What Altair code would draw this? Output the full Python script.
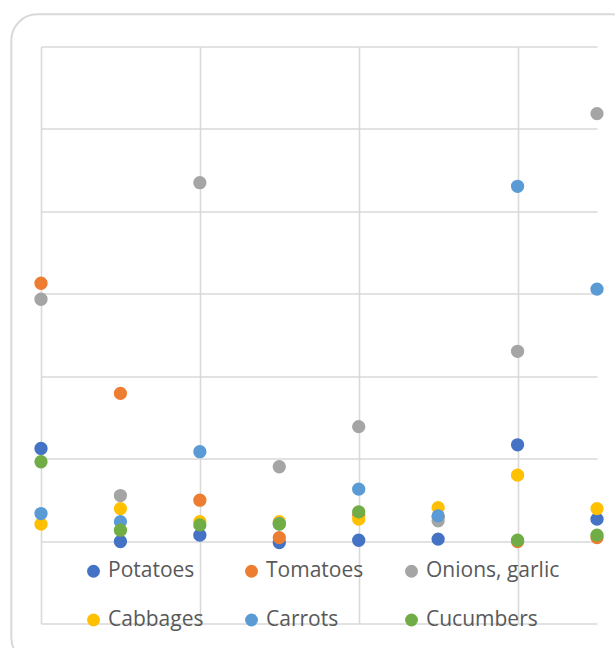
import altair as alt
import pandas as pd

categories = [0, 1, 2, 3, 4, 5, 6, 7]
series_names = ["Potatoes", "Tomatoes", "Onions, garlic", "Cabbages", "Carrots", "Cucumbers"]
potatoes = [106.2, 49.7, 53.6, 49.1, 50.5, 51.2, 108.4, 63.3]
tomatoes = [206.4, 139.6, 74.8, 52.1, 65.9, 64.7, 49.7, 52.1]
onions_garlic = [196.7, 77.6, 267.4, 95.1, 119.4, 62.3, 165.1, 309.3]
cabbages = [60.3, 69.7, 61.8, 61.8, 63.3, 70.3, 90.0, 69.7]
carrots = [66.7, 61.8, 104.2, 60.5, 81.5, 65.3, 265.2, 202.8]
cucumbers = [98.1, 56.6, 59.8, 60.3, 67.7, None, 50.5, 53.6]
colors = ["#4472C4", "#ED7D31", "#A5A5A5", "#FFC000", "#5B9BD5", "#70AD47"]
y_ticks = [0, 50, 100, 150, 200, 250, 300, 350]
x_ticks = [0, 2, 4, 6]

all_series = [potatoes, tomatoes, onions_garlic, cabbages, carrots, cucumbers]
rows = []
for si, (name, vals) in enumerate(zip(series_names, all_series)):
    for c, v in zip(categories, vals):
        if v is not None:
            rows.append({"cat": c, "value": v, "series": name, "k": si})
df = pd.DataFrame(rows)

W, H = 556, 577

border = alt.Chart(alt.Data(values=[{}])).mark_rect(
    fill="transparent", stroke="#d9d9d9", strokeWidth=2, cornerRadius=26
).encode(
    x=alt.value(-29.7), x2=alt.value(W + 40),
    y=alt.value(-32.2), y2=alt.value(H + 40),
)

points = alt.Chart(df).mark_circle(size=177, opacity=1).encode(
    x=alt.X("cat:Q", scale=alt.Scale(domain=[0, 7], nice=False, zero=False),
            axis=alt.Axis(values=x_ticks, labels=False, ticks=False, domain=False,
                          title=None, grid=True)),
    y=alt.Y("value:Q", scale=alt.Scale(domain=[0, 350], nice=False),
            axis=alt.Axis(values=y_ticks, labels=False, ticks=False, domain=False,
                          title=None, grid=True)),
    color=alt.Color("series:N", scale=alt.Scale(domain=series_names, range=colors),
                    legend=alt.Legend(
                        title=None, orient="none", legendX=42, legendY=514,
                        direction="horizontal", columns=3, symbolType="circle",
                        symbolSize=165, symbolOpacity=1, symbolStrokeWidth=0,
                        labelFont="Open Sans", labelFontSize=21, labelColor="#595959",
                        labelOffset=4, columnPadding=37, rowPadding=27,
                        padding=0, labelLimit=300)),
    order=alt.Order("k:Q"),
)

chart = alt.layer(border, points).properties(
    width=W, height=H,
    autosize=alt.AutoSizeParams(type="none"),
    padding={"left": 41, "top": 46.5, "right": 18, "bottom": 25},
    background="white",
).configure_view(stroke=None).configure_axis(
    gridColor="#d9d9d9", gridWidth=1.6
)

chart.save("out.html", embed_options={"renderer": "svg", "actions": False})
